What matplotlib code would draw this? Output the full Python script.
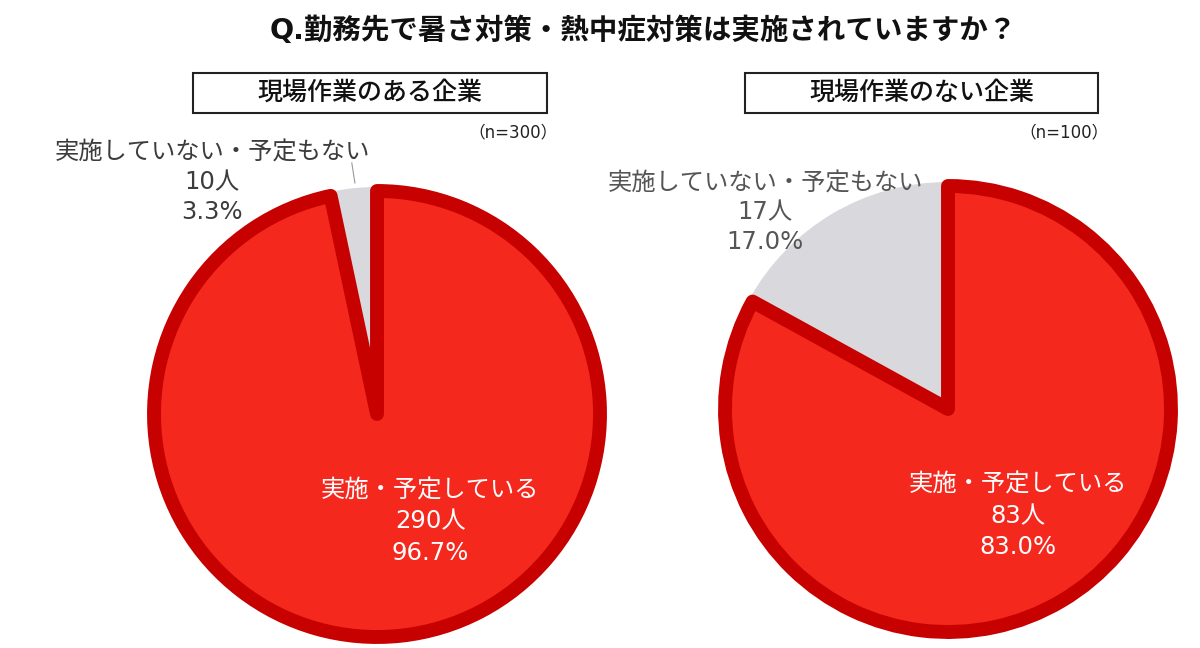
import matplotlib
matplotlib.use("Agg")
import matplotlib.pyplot as plt
from matplotlib.patches import Rectangle

plt.rcParams['font.family'] = ['DejaVu Sans', 'Noto Sans CJK JP']

title = 'Q.勤務先で暑さ対策・熱中症対策は実施されていますか？'
groups = ['現場作業のある企業', '現場作業のない企業']
categories = ['実施・予定している', '実施していない・予定もない']
counts_a = [290, 10]
counts_b = [83, 17]
pct_a = [96.7, 3.3]
pct_b = [83.0, 17.0]
n_labels = ['（n=300）', '（n=100）']

RED = '#F5281E'
DARK = '#C70000'
GRAY = '#D9D9DD'

W, H = 1200, 648
fig = plt.figure(figsize=(12, 6.48), dpi=100)

fig.text(643 / W, 1 - 31 / H, title, ha='center', va='center',
         fontsize=20.5, fontweight='bold', color='#111111')

R = 223  # pie radius in px
L = 1.3


def pie_axes(cx, cy):
    s = 2 * L * R
    ax = fig.add_axes([(cx - s / 2) / W, 1 - (cy + s / 2) / H, s / W, s / H])
    return ax


def draw_pie(ax, counts, pcts, in_pos, out_pos, out_color):
    wedges, _ = ax.pie(counts, startangle=90, counterclock=False,
                       colors=[RED, GRAY], radius=1)
    ax.set_xlim(-L, L)
    ax.set_ylim(-L, L)
    ax.set_aspect('equal')
    ax.axis('off')
    wedges[0].set_edgecolor(DARK)
    wedges[0].set_linewidth(10)
    wedges[0].set_joinstyle('round')
    wedges[0].set_zorder(3)
    wedges[1].set_linewidth(0)
    wedges[1].set_radius(1.018)
    wedges[1].set_zorder(2)
    ax.text(in_pos[0], in_pos[1],
            f'{categories[0]}\n{counts[0]}人\n{pcts[0]:.1f}%',
            ha='center', va='center', color='white', fontsize=17.5,
            linespacing=1.38, zorder=5)
    ax.text(out_pos[0], out_pos[1],
            f'{categories[1]}\n{counts[1]}人\n{pcts[1]:.1f}%',
            ha='center', va='center', color=out_color, fontsize=17.5,
            linespacing=1.3, zorder=5)


# left pie
ax1 = pie_axes(377, 414)
draw_pie(ax1, counts_a, pct_a, (0.239, -0.482), (-0.739, 1.04), '#3c3c3c')
ax1.plot([-0.113, -0.099], [1.126, 1.036], color='#9a9a9a', lw=0.8, zorder=1)

# right pie
ax2 = pie_axes(948, 409)
draw_pie(ax2, counts_b, pct_b, (0.315, -0.48), (-0.82, 0.88), '#555555')

# group boxes
boxes = [(193, 547), (745, 1098)]
for (x0, x1), g, n in zip(boxes, groups, n_labels):
    fig.patches.append(Rectangle((x0 / W, 1 - 113 / H), (x1 - x0) / W, 40 / H,
                                 transform=fig.transFigure, fill=False,
                                 edgecolor='#222222', linewidth=1.5))
    fig.text((x0 + x1) / 2 / W, 1 - 93 / H, g, ha='center', va='center',
             fontsize=18, fontweight='medium', color='#111111')
    fig.text((x1 + 11) / W, 1 - 132 / H, n, ha='right', va='center',
             fontsize=12, color='#222222')

fig.savefig('out.png', dpi=100)
